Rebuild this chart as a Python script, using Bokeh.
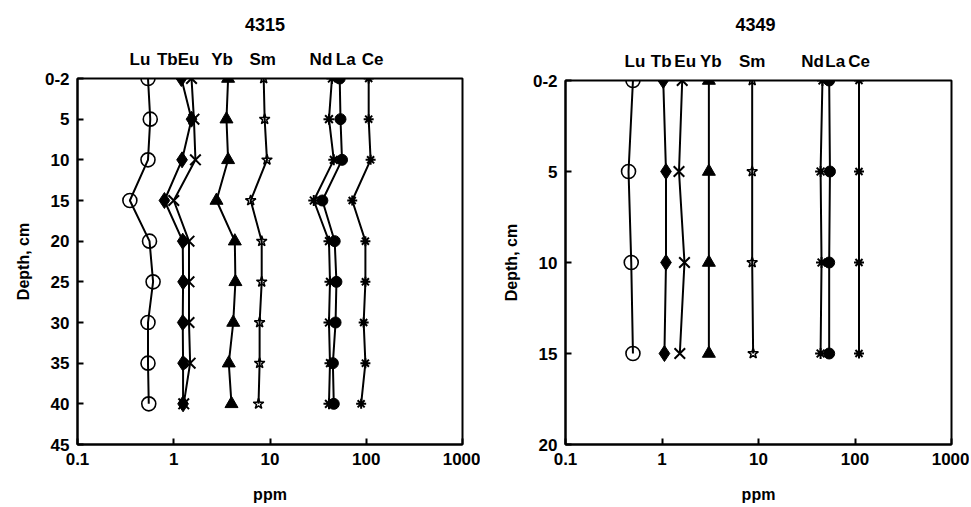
from bokeh.plotting import figure
from bokeh.models import Range1d, FixedTicker
from bokeh.layouts import row, column
from bokeh.core.properties import value
from bokeh.embed import file_html
from bokeh.resources import INLINE

elements = ["Lu", "Tb", "Eu", "Yb", "Sm", "Nd", "La", "Ce"]

# Core 4315
depth_4315 = [0, 5, 10, 15, 20, 25, 30, 35, 40]
lu_4315 = [0.54, 0.57, 0.54, 0.35, 0.56, 0.61, 0.54, 0.54, 0.55]
tb_4315 = [1.20, 1.53, 1.22, 0.80, 1.24, 1.25, 1.24, 1.25, 1.25]
eu_4315 = [1.53, 1.62, 1.68, 1.00, 1.44, 1.44, 1.44, 1.48, 1.27]
yb_4315 = [3.67, 3.53, 3.67, 2.78, 4.31, 4.37, 4.15, 3.73, 3.98]
sm_4315 = [8.6, 8.8, 9.3, 6.3, 8.2, 8.2, 7.8, 7.8, 7.6]
nd_4315 = [44, 41, 46, 28.5, 41, 42, 41, 42, 41]
la_4315 = [53, 54, 56, 35, 47, 49, 48, 45, 46]
ce_4315 = [106, 106, 111, 71.5, 98, 98, 94, 98, 88.5]

# Core 4349
depth_4349 = [0, 5, 10, 15]
lu_4349 = [0.50, 0.45, 0.48, 0.50]
tb_4349 = [1.03, 1.10, 1.10, 1.06]
eu_4349 = [1.62, 1.50, 1.71, 1.53]
yb_4349 = [3.06, 3.06, 3.06, 3.06]
sm_4349 = [8.6, 8.6, 8.6, 8.8]
nd_4349 = [46, 44, 45, 44]
la_4349 = [54, 55, 54, 54]
ce_4349 = [110, 110, 110, 110]

x_ticks = [0.1, 1, 10, 100, 1000]
x_tick_labels = ["0.1", "1", "10", "100", "1000"]

FONT = "Liberation Sans"
FS = "17px"

# marker styles per element: (marker, size, fill, line_width)
styles = {
    "Lu": ("circle", 14, None, 1.6),
    "Tb": ("diamond", 16, "black", 1),
    "Eu": ("x", 15, None, 2),
    "Yb": ("triangle", 13, "black", 1),
    "Sm": ("star", 11, None, 1.5),
    "Nd": ("asterisk", 11, None, 2),
    "La": ("circle", 11, "black", 1),
    "Ce": ("asterisk", 10, None, 2),
}
# pixel nudges of the element names relative to their top marker
label_offsets_4315 = [-8, -14, -3, -6, -1, -11, 6, 4]
label_offsets_4349 = [2, -2, 3, 2, 0, -10, 6, 0]

FRAME_H = 368
GAP = 10  # top border of the plot figures (room for the "0-2" label)


def make_header(title, series, offsets, width, height, bl, br, title_dx):
    h = figure(width=width, height=height, x_axis_type="log",
               x_range=Range1d(0.1, 1000), y_range=Range1d(0, height),
               output_backend="svg", toolbar_location=None,
               min_border_left=bl, min_border_right=br,
               min_border_top=0, min_border_bottom=0)
    h.xaxis.visible = False
    h.yaxis.visible = False
    h.grid.visible = False
    h.outline_line_color = None
    h.background_fill_color = "white"
    h.border_fill_color = "white"
    h.text(x=[10], y=[height - 24], text=[title], x_offset=title_dx,
           text_align="center", text_baseline="middle",
           text_font=value(FONT), text_font_style="bold",
           text_font_size="18px", text_color="black")
    tops = [series[el][0] for el in elements]
    h.text(x=tops, y=[9] * len(elements), text=elements, x_offset=offsets,
           text_align="center", text_baseline="middle",
           text_font=value(FONT), text_font_style="bold",
           text_font_size=FS, text_color="black")
    return h


def make_panel(depth, series, ymax, yticks, width, height, bl, br, bb):
    p = figure(width=width, height=height, x_axis_type="log",
               x_range=Range1d(0.1, 1000), y_range=Range1d(ymax, 0),
               output_backend="svg", toolbar_location=None,
               min_border_left=bl, min_border_right=br,
               min_border_top=GAP, min_border_bottom=bb)
    p.grid.visible = False
    p.outline_line_color = "black"
    p.outline_line_width = 2
    p.background_fill_color = "white"
    p.border_fill_color = "white"

    for ax in (p.xaxis[0], p.yaxis[0]):
        ax.axis_line_width = 2
        ax.axis_line_color = "black"
        ax.major_tick_in = 6
        ax.major_tick_out = 0
        ax.major_tick_line_width = 2
        ax.minor_tick_in = 0
        ax.minor_tick_out = 0
        ax.major_label_text_font = FONT
        ax.major_label_text_font_style = "bold"
        ax.major_label_text_font_size = FS
        ax.major_label_text_color = "black"
        ax.axis_label_text_font = FONT
        ax.axis_label_text_font_style = "bold"
        ax.axis_label_text_font_size = "16px"
        ax.axis_label_text_color = "black"

    p.xaxis.ticker = FixedTicker(ticks=x_ticks, minor_ticks=[])
    p.xaxis.major_label_overrides = {t: l for t, l in zip(x_ticks, x_tick_labels)}
    p.xaxis.axis_label = "ppm"
    p.xaxis.major_label_standoff = 8
    p.xaxis.axis_label_standoff = 18

    p.yaxis.ticker = FixedTicker(ticks=yticks, minor_ticks=[])
    ylabels = {t: str(t) for t in yticks}
    ylabels[0] = "0-2"
    p.yaxis.major_label_overrides = ylabels
    p.yaxis.axis_label = "Depth, cm"
    p.yaxis.major_label_standoff = 8
    p.yaxis.axis_label_standoff = 10

    for el in elements:
        p.line(series[el], depth, line_color="black", line_width=2)
    for el in elements:
        mk, sz, fill, lw = styles[el]
        p.scatter(series[el], depth, marker=mk, size=sz,
                  line_color="black", line_width=lw,
                  fill_color=fill if fill else None)
    return p


s1 = {"Lu": lu_4315, "Tb": tb_4315, "Eu": eu_4315, "Yb": yb_4315,
      "Sm": sm_4315, "Nd": nd_4315, "La": la_4315, "Ce": ce_4315}
s2 = {"Lu": lu_4349, "Tb": tb_4349, "Eu": eu_4349, "Yb": yb_4349,
      "Sm": sm_4349, "Nd": nd_4349, "La": la_4349, "Ce": ce_4349}

H = 505
HEAD1, HEAD2 = 68, 70
h1 = make_header("4315", s1, label_offsets_4315, 480, HEAD1, 77, 18, -5)
p1 = make_panel(depth_4315, s1, 45, [0, 5, 10, 15, 20, 25, 30, 35, 40, 45],
                480, H - HEAD1, 77, 18, H - HEAD1 - GAP - FRAME_H)
h2 = make_header("4349", s2, label_offsets_4349, 489, HEAD2, 85, 18, -3)
p2 = make_panel(depth_4349, s2, 20, [0, 5, 10, 15, 20],
                489, H - HEAD2, 85, 18, H - HEAD2 - GAP - FRAME_H)

layout = row(column(h1, p1, spacing=0), column(h2, p2, spacing=0), spacing=0)
open("out.html", "w").write(file_html(layout, INLINE))
